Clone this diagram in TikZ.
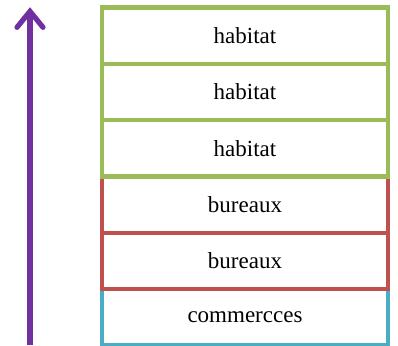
\documentclass[tikz,border=0pt]{standalone}
\usepackage{fontspec}
\setmainfont{Liberation Serif}
\usepackage{tikz}
\usetikzlibrary{arrows.meta,positioning}
\definecolor{cHab}{RGB}{155,187,89}
\definecolor{cBur}{RGB}{192,80,77}
\definecolor{cCom}{RGB}{75,172,198}
\definecolor{cUp}{RGB}{112,48,160}
\tikzset{
  floor/.style={draw, line width=2.2pt, fill=white, outer sep=0pt, inner sep=0pt, minimum width=143pt, minimum height=28.15pt, font=\fontsize{11.5}{13}\selectfont},
  uparr/.style={cUp, line width=2.6pt, -{Straight Barb[length=8pt, width=13pt, line cap=round]}}
}

\begin{document}
\begin{tikzpicture}[x=1pt,y=1pt]
  \useasboundingbox (0,0) rectangle (199,-172.5);
  % floors, from ground up
  \node[floor, draw=cCom] (com) at (122.5,-158.6) {commercces};
  \node[floor, draw=cBur, above=0pt of com] (bur1) {bureaux};
  \node[floor, draw=cBur, above=0pt of bur1] (bur2) {bureaux};
  \node[floor, draw=cHab, above=0pt of bur2] (hab1) {habitat};
  \node[floor, draw=cHab, above=0pt of hab1] (hab2) {habitat};
  \node[floor, draw=cHab, above=0pt of hab2] (hab3) {habitat};
  % height arrow
  \coordinate (base) at (15,-172.5);
  \coordinate (tip) at (15,-3.6);
  \draw[uparr] (base) -- (tip);
\end{tikzpicture}
\end{document}
